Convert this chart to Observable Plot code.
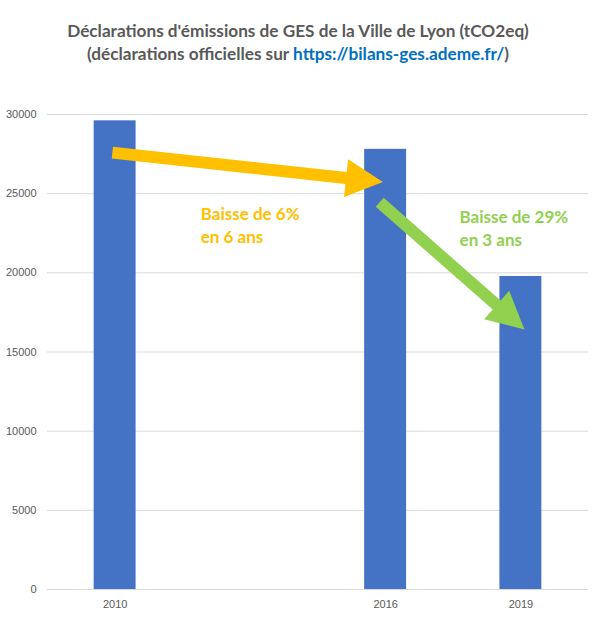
<!DOCTYPE html>
<html>
<head>
<meta charset="utf-8">
<script src="https://cdn.jsdelivr.net/npm/d3@7"></script>
<script src="https://cdn.jsdelivr.net/npm/@observablehq/plot@0.6"></script>
<style>
  html, body { margin: 0; padding: 0; background: #fff; }
  #wrap { width: 596px; height: 620px; position: relative; }
  #title { height: 90px; box-sizing: border-box; padding-top: 19px; text-align: center;
    font-family: Lato, "Open Sans", sans-serif; font-weight: bold; font-size: 17.2px; line-height: 23px; color: #595959; }
  #title .link { color: #0070C0; }
</style>
</head>
<body>
<div id="wrap">
  <div id="title">Déclarations d'émissions de GES de la Ville de Lyon (tCO2eq)<br>(déclarations officielles sur <span class="link">https://bilans-ges.ademe.fr/</span>)</div>
  <div id="chart"></div>
</div>
<script>
const years = [2010, 2016, 2019];
const emissions = [29600, 27800, 19770];
const yTicks = [0, 5000, 10000, 15000, 20000, 25000, 30000];

// annotation arrows (data coordinates: year, tCO2eq)
const arrowNames = ["baisse6", "baisse29"];
const arrowX1 = [2009.95, 2015.88];
const arrowY1 = [27560, 24430];
const arrowX2 = [2015.95, 2019.09];
const arrowY2 = [25700, 16390];
const arrowColors = ["#FFC000", "#92D050"];

// annotation labels
const labelTexts = ["Baisse de 6%\nen 6 ans", "Baisse de 29%\nen 3 ans"];
const labelX = [2011.9, 2017.64];
const labelY = [24370, 24180];

const bars = years.map((y, i) => ({year: y, value: emissions[i]}));
const arrows = arrowNames.map((n, i) => ({x1: arrowX1[i], y1: arrowY1[i], x2: arrowX2[i], y2: arrowY2[i], color: arrowColors[i]}));
const labels = labelTexts.map((t, i) => ({text: t, x: labelX[i], y: labelY[i], color: arrowColors[i]}));

function arrowMark(index, scales) {
  const ns = "http://www.w3.org/2000/svg";
  const g = document.createElementNS(ns, "g");
  for (const a of arrows) {
    const sx = scales.x(a.x1), sy = scales.y(a.y1);
    const tx = scales.x(a.x2), ty = scales.y(a.y2);
    const dx = tx - sx, dy = ty - sy, len = Math.hypot(dx, dy);
    const ux = dx / len, uy = dy / len, nx = -uy, ny = ux;
    const w = 6, H = 19, L = 37;
    const bx = tx - ux * L, by = ty - uy * L;
    const pts = [
      [sx + nx * w, sy + ny * w],
      [bx + nx * w, by + ny * w],
      [bx + nx * H, by + ny * H],
      [tx, ty],
      [bx - nx * H, by - ny * H],
      [bx - nx * w, by - ny * w],
      [sx - nx * w, sy - ny * w]
    ];
    const p = document.createElementNS(ns, "path");
    p.setAttribute("d", "M" + pts.map(q => q.join(",")).join("L") + "Z");
    p.setAttribute("fill", a.color);
    g.appendChild(p);
  }
  return g;
}

const plot = Plot.plot({
  width: 596,
  height: 530,
  marginTop: 24,
  marginBottom: 31,
  marginLeft: 47,
  marginRight: 8,
  style: {fontFamily: "'Liberation Sans', Arial, sans-serif", fontSize: "11px", color: "#595959", background: "#fff"},
  x: {domain: [2008.5, 2020.5], ticks: years, tickFormat: "d", tickSize: 0, tickPadding: 11, label: null},
  y: {domain: [0, 30000], ticks: yTicks, tickFormat: "d", tickSize: 0, tickPadding: 11, label: null},
  marks: [
    Plot.ruleY(yTicks, {stroke: "#D9D9D9", strokeWidth: 1}),
    Plot.rectY(bars, {x1: d => d.year - 0.465, x2: d => d.year + 0.465, y1: 0, y2: "value", fill: "#4472C4"}),
    arrowMark,
    Plot.text(labels, {x: "x", y: "y", text: "text", fill: d => d.color, textAnchor: "start", lineAnchor: "top",
      lineHeight: 1.35, fontSize: 17, fontWeight: "bold", fontFamily: "Lato, 'Open Sans', sans-serif"})
  ]
});
document.getElementById("chart").appendChild(plot);
</script>
</body>
</html>
